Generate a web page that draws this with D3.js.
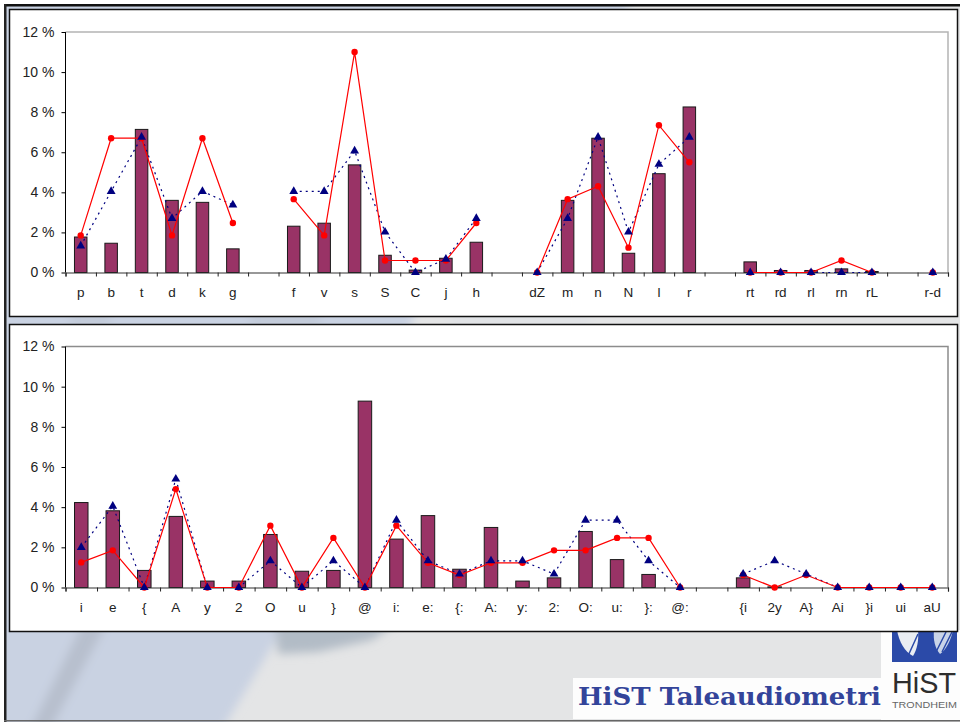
<!DOCTYPE html>
<html>
<head>
<meta charset="utf-8">
<script src="https://cdnjs.cloudflare.com/ajax/libs/d3/7.8.5/d3.min.js"></script>
<style>
  html, body { margin: 0; padding: 0; background: #fff; }
  svg { display: block; }
  text { font-family: "Liberation Sans", Arial, sans-serif; }
</style>
</head>
<body>
<div id="chart"></div>
<script>
// Consonants, top chart. Empty label = gap between the groups.
const topLabels = ["p","b","t","d","k","g","","f","v","s","S","C","j","h","","dZ","m","n","N","l","r","","rt","rd","rl","rn","rL","","r-d"];
const topBars = [1.77,1.46,7.14,3.6,3.5,1.18,null,2.31,2.46,5.37,0.86,0.12,0.71,1.51,null,0,3.6,6.7,0.96,4.93,8.26,null,0.53,0.1,0.1,0.18,0.05,null,0];
const topRed = [1.85,6.7,6.7,1.85,6.7,2.47,null,3.66,1.85,11,0.6,0.6,0.6,2.47,null,0,3.66,4.3,1.24,7.35,5.5,null,0,0,0,0.6,0,null,0];
const topBlue = [1.33,4.05,6.75,2.7,4.05,3.37,null,4.05,4.05,6.07,2.02,0,0.67,2.7,null,0,2.7,6.75,2.02,5.4,6.75,null,0,0,0,0,0,null,0];

// Vowels and diphthongs, bottom chart
const bottomLabels = ["i","e","{","A","y","2","O","u","}","@","i:","e:","{:","A:","y:","2:","O:","u:","}:","@:","","{i","2y","A}","Ai","}i","ui","aU"];
const bottomBars = [4.23,3.82,0.85,3.54,0.32,0.32,2.64,0.81,0.85,9.28,2.41,3.58,0.91,2.99,0.32,0.48,2.79,1.39,0.65,0,null,0.48,0.03,0,0,0,0,0];
const bottomRed = [1.25,1.85,0,4.9,0,0,3.08,0,2.47,0,3.08,1.23,0.62,1.23,1.23,1.85,1.85,2.47,2.47,0,null,0.62,0,0.62,0,0,0,0];
const bottomBlue = [2.0,4.05,0,5.4,0,0,1.33,0,1.33,0,3.35,1.33,0.67,1.33,1.33,0.67,3.35,3.35,1.33,0,null,0.67,1.33,0.67,0,0,0,0];

const yTicks = [0, 2, 4, 6, 8, 10, 12];

const width = 960;
const height = 722;

const svg = d3.select("#chart").append("svg").attr("width", width).attr("height", height);

drawBackground();
drawLogo();
drawPanel({ box: [9.5, 9.5, 948, 307], top: 32, bottom: 272.5, labels: topLabels, bars: topBars, red: topRed, blue: topBlue, barWidth: 12.5, frame: "#b4b4b4" });
drawPanel({ box: [9.5, 324.5, 948, 307], top: 346.5, bottom: 587.5, labels: bottomLabels, bars: bottomBars, red: bottomRed, blue: bottomBlue, barWidth: 13.5, frame: "#8c8c8c" });

/**
 * Slide background: blurred blue and grey shapes behind the charts
 */
function drawBackground() {
  const defs = svg.append("defs");
  defs.append("filter").attr("id", "soft").attr("x", "-20%").attr("y", "-20%").attr("width", "140%").attr("height", "140%")
    .append("feGaussianBlur").attr("stdDeviation", 5);

  svg.append("rect").attr("width", width).attr("height", height).attr("fill", "#e4e5e6");

  const shapes = svg.append("g").attr("filter", "url(#soft)");
  shapes.append("path").attr("d", "M-10 -10H640L420 300L330 540L270 650L222 730H-10Z").attr("fill", "#c9d2e2");
  shapes.append("path").attr("d", "M82 625L106 625L50 730L30 730Z").attr("fill", "#b7bfcd");
  shapes.append("path").attr("d", "M275 620H400L372 640L318 652L278 654Z").attr("fill", "#b2bcc6");

  // light strip between the charts
  const strip = svg.append("g").attr("filter", "url(#soft)");
  strip.append("rect").attr("x", 70).attr("y", 317).attr("width", 40).attr("height", 6).attr("fill", "#bcc4d2");
  strip.append("rect").attr("x", 250).attr("y", 317).attr("width", 70).attr("height", 6).attr("fill", "#bcc4d2");
  strip.append("rect").attr("x", 450).attr("y", 316).attr("width", 140).attr("height", 8).attr("fill", "#dfe1e6");
  strip.append("rect").attr("x", 800).attr("y", 316).attr("width", 160).attr("height", 8).attr("fill", "#e4e5e6");

  // dark slide border
  svg.append("rect").attr("x", 0).attr("y", 0).attr("width", width).attr("height", 4).attr("fill", "#fff");
  svg.append("rect").attr("x", 0).attr("y", 0).attr("width", 4).attr("height", height).attr("fill", "#fff");
  svg.append("rect").attr("x", 4).attr("y", 4).attr("width", width - 4).attr("height", 2.5).attr("fill", "#111");
  svg.append("rect").attr("x", 4).attr("y", 4).attr("width", 2.5).attr("height", height - 4).attr("fill", "#222");
  svg.append("rect").attr("x", 4).attr("y", 720).attr("width", width - 4).attr("height", 1.5).attr("fill", "#666");
}

/**
 * Logo and title in the bottom right corner of the slide
 */
function drawLogo() {
  svg.append("rect").attr("x", 573).attr("y", 678).attr("width", 308).attr("height", 41).attr("fill", "#fdfdfd");
  svg.append("rect").attr("x", 881).attr("y", 630).attr("width", 79).attr("height", 90).attr("fill", "#fdfdfd");

  svg.append("text").attr("x", 578).attr("y", 705)
    .attr("font-size", 25).attr("font-weight", "bold").attr("fill", "#33449a")
    .attr("textLength", 303).attr("lengthAdjust", "spacingAndGlyphs")
    .style("font-family", "'DejaVu Serif', 'Liberation Serif', serif")
    .text("HiST Taleaudiometri");

  svg.append("rect").attr("x", 892).attr("y", 630).attr("width", 65).attr("height", 32).attr("fill", "#2b4aa8");
  // leaf shapes of the emblem, striped
  svg.append("path").attr("d", "M897 630H918C919 640 917 650 913 656C905 652 899 642 897 630Z").attr("fill", "#e9edf3");
  svg.append("path").attr("d", "M934 630H953C951 640 946 650 940 654C935 648 933 640 934 630Z").attr("fill", "#c9d4e8");
  svg.append("path").attr("d", "M908 656L918 634M936 652L946 632M942 652L952 632")
    .attr("fill", "none").attr("stroke", "#2b4aa8").attr("stroke-width", 1.5);

  svg.append("text").attr("x", 892).attr("y", 693)
    .attr("font-size", 29).attr("fill", "#2d2d2d")
    .attr("textLength", 64).attr("lengthAdjust", "spacingAndGlyphs")
    .text("HiST");
  svg.append("text").attr("x", 892).attr("y", 708)
    .attr("font-size", 9.5).attr("fill", "#666")
    .attr("textLength", 65).attr("lengthAdjust", "spacingAndGlyphs")
    .text("TRONDHEIM");
}

/**
 * One white framed panel with bars and the two line series
 */
function drawPanel({ box, top, bottom, labels, bars, red, blue, barWidth, frame }) {
  const left = 65.5;
  const right = 948;
  const indexes = d3.range(labels.length);

  const x = d3.scaleBand().domain(indexes).range([left, right]);
  const xTicks = d3.scaleLinear().domain([0, labels.length]).range([left, right]);
  const y = d3.scaleLinear().domain([0, 12]).range([bottom, top]);
  const cx = (i) => x(i) + x.bandwidth() / 2;

  const g = svg.append("g");

  // panel frame
  g.append("rect")
    .attr("x", box[0]).attr("y", box[1]).attr("width", box[2]).attr("height", box[3])
    .attr("fill", "#fff").attr("stroke", "#111").attr("stroke-width", 1.5);

  // plot area frame, only top and right are grey
  g.append("path")
    .attr("d", `M${left} ${top}H${right}V${bottom}`)
    .attr("fill", "none").attr("stroke", frame).attr("stroke-width", 1.5);

  // bars
  g.append("g").selectAll("rect")
    .data(indexes.filter((i) => bars[i] > 0))
    .join("rect")
    .attr("x", (i) => cx(i) - barWidth / 2)
    .attr("y", (i) => y(bars[i]))
    .attr("width", barWidth)
    .attr("height", (i) => y(0) - y(bars[i]))
    .attr("fill", "#993366").attr("stroke", "#1a1a1a").attr("stroke-width", 1);

  // y axis
  g.append("g")
    .attr("transform", `translate(${left},0)`)
    .call(d3.axisLeft(y).tickValues(yTicks).tickSize(4).tickPadding(7).tickFormat((d) => `${d} %`))
    .call((a) => a.selectAll("path").attr("d", `M0 ${bottom}V${top}`).attr("stroke", "#000"))
    .call((a) => a.selectAll("line").attr("stroke", "#000"))
    .call((a) => a.selectAll("text").attr("font-size", 14).attr("fill", "#222").style("font-family", "'Liberation Sans', Arial, sans-serif"));

  // x axis: ticks on the band edges, labels in the band centres
  g.append("g")
    .attr("transform", `translate(0,${bottom})`)
    .call(d3.axisBottom(xTicks).tickValues(d3.range(labels.length + 1)).tickSize(4).tickFormat(""))
    .call((a) => a.selectAll("path").attr("stroke", "#333").attr("stroke-width", 1.2))
    .call((a) => a.selectAll("line").attr("stroke", "#222"));

  g.append("g")
    .attr("transform", `translate(0,${bottom})`)
    .call(d3.axisBottom(x).tickSize(0).tickPadding(15).tickFormat((i) => labels[i]))
    .call((a) => a.select("path").remove())
    .call((a) => a.selectAll("text").attr("font-size", 13.5).attr("fill", "#222").style("font-family", "'Liberation Sans', Arial, sans-serif"));

  // line series, broken over the gaps
  const line = (values) => d3.line()
    .defined((i) => values[i] !== null)
    .x(cx)
    .y((i) => y(values[i]))(indexes);

  g.append("path").attr("d", line(blue))
    .attr("fill", "none").attr("stroke", "#000080").attr("stroke-width", 1.2).attr("stroke-dasharray", "2 4");

  g.append("path").attr("d", line(red))
    .attr("fill", "none").attr("stroke", "#ff0000").attr("stroke-width", 1.2);

  g.append("g").selectAll("circle")
    .data(indexes.filter((i) => red[i] !== null))
    .join("circle")
    .attr("cx", cx)
    .attr("cy", (i) => y(red[i]))
    .attr("r", 3.2)
    .attr("fill", "#ff0000");

  // triangles go over the red dots, as in the original
  g.append("g").selectAll("path")
    .data(indexes.filter((i) => blue[i] !== null))
    .join("path")
    .attr("d", d3.symbol(d3.symbolTriangle, 34))
    .attr("transform", (i) => `translate(${cx(i)},${y(blue[i])})`)
    .attr("fill", "#000080");
}
</script>
</body>
</html>
